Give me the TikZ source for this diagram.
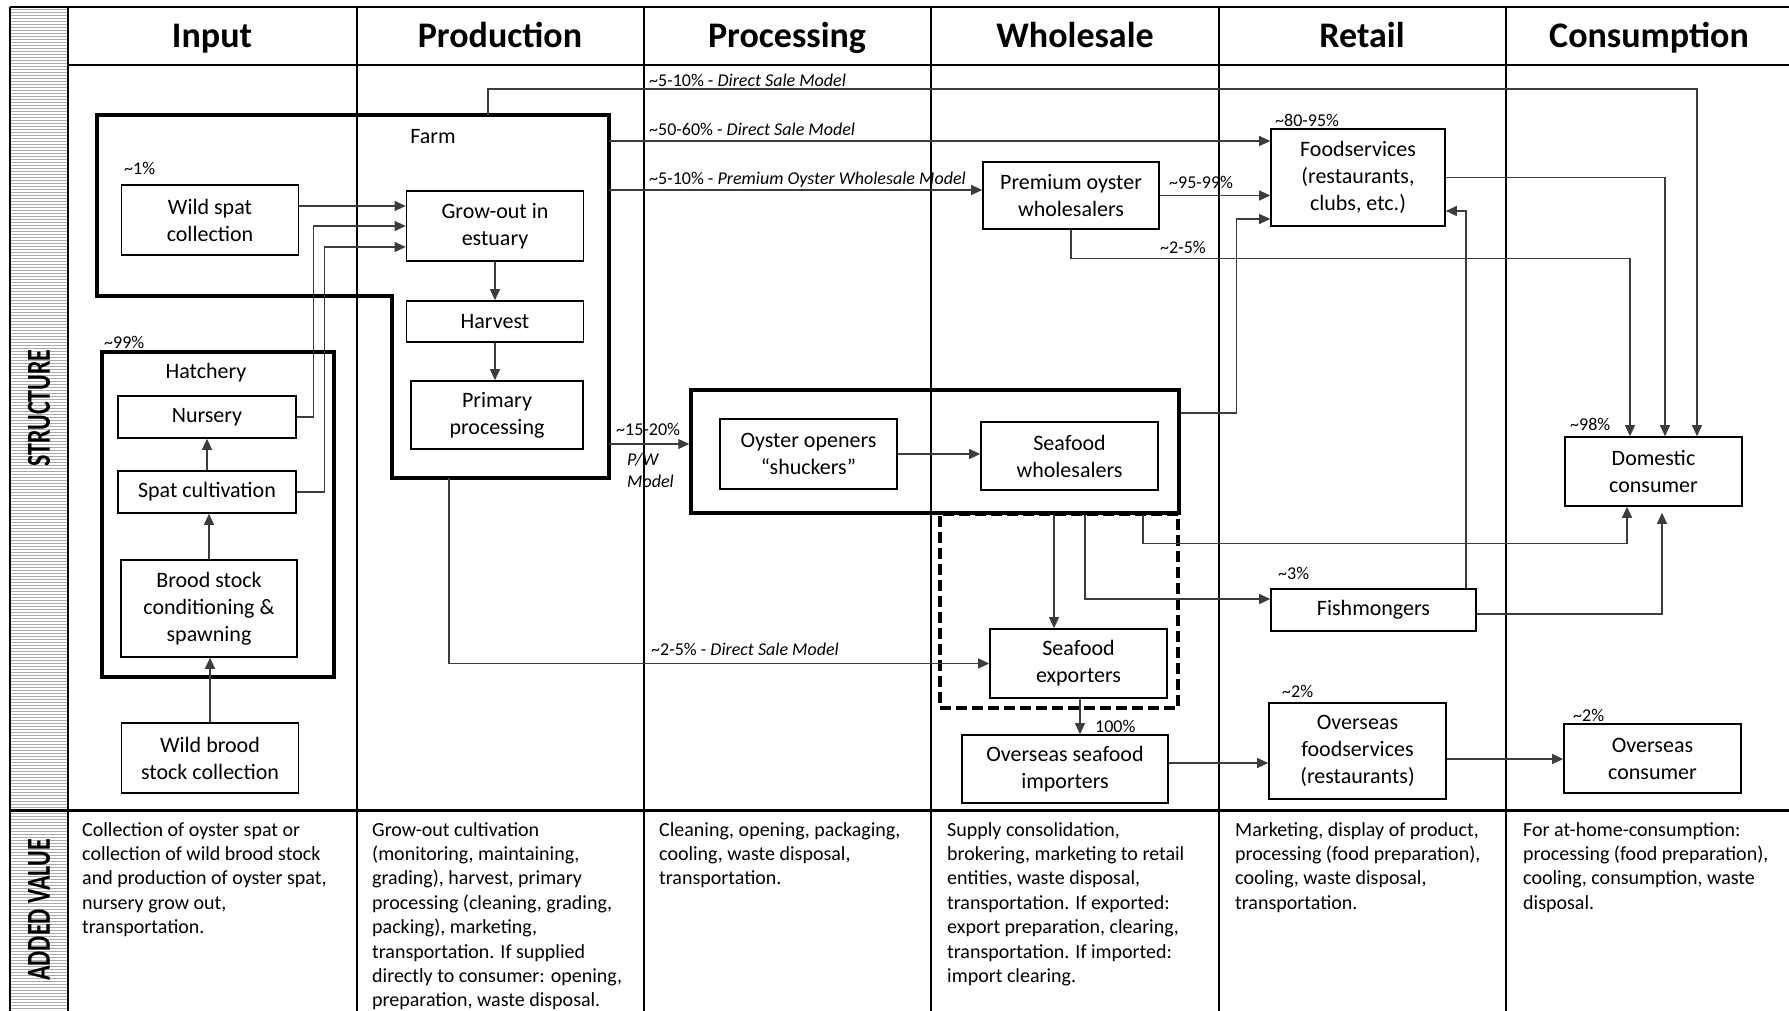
\documentclass[tikz,border=0pt]{standalone}
\usepackage{graphicx}
\usepackage{fontspec}
\setmainfont{Carlito}
\usetikzlibrary{arrows.meta, positioning, calc}
\definecolor{lineGray}{RGB}{60,60,60}
\definecolor{bandGray}{RGB}{170,170,170}
\newcommand{\apx}{\textasciitilde}

\begin{document}
\begin{tikzpicture}[
    x=1pt, y=-1pt,
    every node/.style={inner sep=0pt},
    headtext/.style={anchor=base, font=\fontsize{36}{40}\selectfont\bfseries},
    box/.style={rectangle, draw, line width=1.6pt, minimum width=177pt, minimum height=70pt, align=center, font=\fontsize{22}{27}\selectfont},
    groupbox/.style={draw, line width=3.5pt},
    dashbox/.style={draw, line width=3.5pt, dash pattern=on 11pt off 5pt},
    boxlabel/.style={font=\fontsize{22}{27}\selectfont},
    pct/.style={anchor=west, font=\fontsize{18}{21}\selectfont},
    addtext/.style={anchor=north west, align=left, font=\fontsize{20}{24.4}\selectfont},
    flow/.style={draw=lineGray, line width=1.1pt, -{Triangle[length=11pt,width=10pt]}},
    tableline/.style={line width=1.8pt},
    bandtext/.style={rotate=90, font=\fontsize{24}{28}\selectfont\bfseries}
]
\useasboundingbox (0,0) rectangle (1789,1011);

% Side band
\fill[bandGray] (10,7) rectangle (68,1011);
\foreach \yy in {8,11,...,1010} \draw[white, line width=1.1pt] (10,\yy) -- (68,\yy);
\node[bandtext] (structure) at (39,408) {\scalebox{1}[1.4]{STRUCTURE}};
\node[bandtext] (addedvalue) at (39,910) {\scalebox{1}[1.4]{ADDED VALUE}};

% Table
\draw[tableline] (10,7) -- (1789,7);
\draw[tableline] (68,65) -- (1789,65);
\draw[tableline, line width=3pt] (10,810) -- (1789,810);
\draw[tableline] (10,7) -- (10,1011);
\foreach \xx in {68,357,644,931,1219,1506} \draw[tableline] (\xx,7) -- (\xx,1011);

% Headers
\foreach \name/\xx in {Input/212, Production/500, Processing/787, Wholesale/1075, Retail/1362, Consumption/1649}
    \node[headtext] (h\name) at (\xx,48) {\name};

% Farm outline
\draw[groupbox] (97,115) -- (609,115) -- (609,478) -- (392,478) -- (392,296) -- (97,296) -- cycle;
\coordinate (farmtop) at (488,115);
\coordinate (farmE1) at (609,141);
\coordinate (farmE2) at (609,190);
\coordinate (farmE3) at (609,444);
\coordinate (farmB) at (449,478);
\node[boxlabel] (farmlbl) at (433,137) {Farm};

% Hatchery outline
\node[groupbox, minimum width=232pt, minimum height=325pt] (hatch) at (218,514.5) {};
\node[boxlabel] (hatchlbl) at (206,373) {Hatchery};

% Input
\node[pct] (p1) at (124,168) {\apx1\%};
\node[box] (wild) at (210,220) {Wild spat\\collection};
\node[pct] (p99) at (104,342) {\apx99\%};
\node[box, minimum width=178pt, minimum height=42pt] (nursery) at (207,417) {Nursery};
\node[box, minimum width=178pt, minimum height=42pt] (spat) at (207,492) {Spat cultivation};
\node[box, minimum width=176pt, minimum height=97pt] (brood) at (209,608.5) {Brood stock\\conditioning \&\\spawning};
\node[box] (wildbrood) at (210,758) {Wild brood\\stock collection};

% Production
\node[box] (grow) at (495,226) {Grow-out in\\estuary};
\node[box, minimum height=41pt] (harvest) at (495,321.5) {Harvest};
\node[box, minimum width=172pt, minimum height=68pt] (primary) at (497,415) {Primary\\processing};

% Processing and wholesale
\node[groupbox, minimum width=488pt, minimum height=123pt] (grp) at (935,451.5) {};
\node[dashbox, minimum width=238pt, minimum height=194pt] (dash) at (1059,611) {};
\node[box] (shuck) at (808.5,454) {Oyster openers\\“shuckers”};
\node[box, minimum height=68pt] (whole) at (1069.5,456) {Seafood\\wholesalers};
\node[box, minimum width=176pt, minimum height=67pt] (premium) at (1071,195.5) {Premium oyster\\wholesalers};
\node[box, minimum height=69pt] (exporters) at (1078.5,663.5) {Seafood\\exporters};
\node[box, minimum width=206pt, minimum height=68pt] (importers) at (1065,769) {Overseas seafood\\importers};

% Retail
\node[box, minimum width=174pt, minimum height=97pt] (food) at (1358,177.5) {Foodservices\\(restaurants,\\clubs, etc.)};
\node[box, minimum width=205pt, minimum height=42pt] (fish) at (1373.5,610) {Fishmongers};
\node[box, minimum height=96pt] (ofood) at (1357.5,751) {Overseas\\foodservices\\(restaurants)};

% Consumption
\node[box, minimum height=69pt] (domestic) at (1653.5,471.5) {Domestic\\consumer};
\node[box, minimum height=69pt] (ocons) at (1652.5,758.5) {Overseas\\consumer};

% Percentages
\node[pct] (l1) at (649,80) {\apx5-10\% - \textit{Direct Sale Model}};
\node[pct] (l2) at (649,129) {\apx50-60\% - \textit{Direct Sale Model}};
\node[pct] (l3) at (649,180) {\apx5-10\% - \textit{Premium Oyster Wholesale Model}};
\node[pct] (l4) at (1169,182) {\apx95-99\%};
\node[pct] (l5) at (1160,247) {\apx2-5\%};
\node[pct] (l6) at (1275,120) {\apx80-95\%};
\node[pct] (l7) at (616,429) {\apx15-20\%};
\node[pct, align=left, font=\fontsize{18}{22}\selectfont\itshape] (l8) at (627,470) {P/W\\Model};
\node[pct] (l9) at (651,649) {\apx2-5\% - \textit{Direct Sale Model}};
\node[pct] (l10) at (1095,726) {100\%};
\node[pct] (l11) at (1278,573) {\apx3\%};
\node[pct] (l12) at (1282,691) {\apx2\%};
\node[pct] (l13) at (1573,715) {\apx2\%};
\node[pct] (l14) at (1570,424) {\apx98\%};

% Flows - input and farm
\draw[flow] ([yshift=14pt]wild.east) -- ([yshift=14pt]wild.east -| grow.west);
\draw[flow] (nursery.east) -- ++(17,0) |- (grow.west);
\draw[flow] (spat.east) -- ++(28,0) |- ([yshift=-21pt]grow.west);
\draw[flow] (spat.north) -- (spat.north |- nursery.south);
\draw[flow] (brood.north) -- (brood.north |- spat.south);
\draw[flow] (wildbrood.north) -- (wildbrood.north |- brood.south);
\draw[flow] (grow.south) -- (harvest.north);
\draw[flow] (harvest.south) -- (harvest.south |- primary.north);

% Flows - out of the farm
\draw[flow] (farmtop) -- ++(0,-26) -| ([xshift=43.5pt]domestic.north);
\draw[flow] (farmE1) -- (farmE1 -| food.west);
\draw[flow] (farmE2) -- (farmE2 -| premium.west);
\draw[flow] (farmE3) -- (farmE3 -| grp.west);
\draw[flow] (farmB) |- (exporters.west);

% Flows - wholesale
\draw[flow] (premium.east) -- (premium.east -| food.west);
\draw[flow] (premium.south) -- ++(0,29) -| ([xshift=-23.5pt]domestic.north);
\draw[flow] (shuck.east) -- (shuck.east -| whole.west);
\draw[flow] ([yshift=38.5pt]grp.east) -- ++(56,0) |- ([yshift=-41.5pt]food.west);
\draw[flow] ([xshift=119pt]grp.south) -- ([xshift=119pt]grp.south |- exporters.north);
\draw[flow] ([xshift=150pt]grp.south) |- ([yshift=11pt]fish.west);
\draw[flow] ([xshift=208pt]grp.south) -- ++(0,29) -| ([xshift=-26.5pt]domestic.south);
\draw[flow] ([xshift=1.5pt]exporters.south) -- ([xshift=1.5pt]exporters.south |- importers.north);
\draw[flow] ([yshift=6pt]importers.east) -- ([yshift=6pt]importers.east -| ofood.west);

% Flows - retail
\draw[flow] (food.east) -| ([xshift=11.5pt]domestic.north);
\draw[flow] ([xshift=92.5pt]fish.north) |- ([yshift=-33.5pt]food.east);
\draw[flow] ([yshift=-4pt]fish.east) -| ([xshift=8.5pt,yshift=-6pt]domestic.south);
\draw[flow] ([yshift=-8pt]ofood.east) -- ([yshift=-8pt]ofood.east -| ocons.west);

% Added value
\node[addtext] (vInput) at (82,822) {Collection of oyster spat or\\collection of wild brood stock\\and production of oyster spat,\\nursery grow out,\\transportation.};
\node[addtext] (vProduction) at (372,822) {Grow-out cultivation\\(monitoring, maintaining,\\grading), harvest, primary\\processing (cleaning, grading,\\packing), marketing,\\transportation. If supplied\\directly to consumer: opening,\\preparation, waste disposal.};
\node[addtext] (vProcessing) at (659,822) {Cleaning, opening, packaging,\\cooling, waste disposal,\\transportation.};
\node[addtext] (vWholesale) at (947,822) {Supply consolidation,\\brokering, marketing to retail\\entities, waste disposal,\\transportation. If exported:\\export preparation, clearing,\\transportation. If imported:\\import clearing.};
\node[addtext] (vRetail) at (1235,822) {Marketing, display of product,\\processing (food preparation),\\cooling, waste disposal,\\transportation.};
\node[addtext] (vConsumption) at (1523,822) {For at-home-consumption:\\processing (food preparation),\\cooling, consumption, waste\\disposal.};

\end{tikzpicture}
\end{document}
